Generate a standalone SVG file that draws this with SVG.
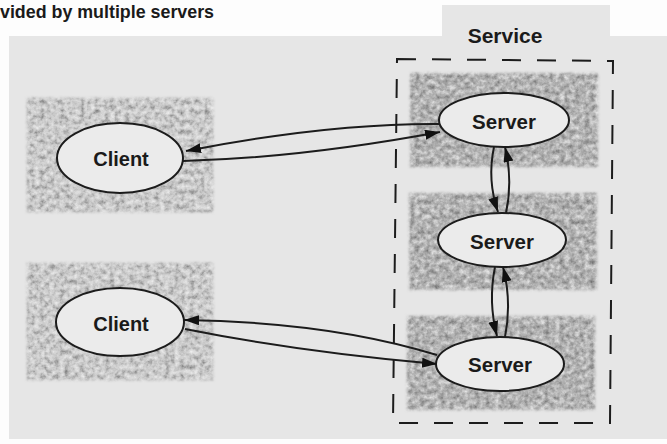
<svg xmlns="http://www.w3.org/2000/svg" width="667" height="444" viewBox="0 0 667 444">
  <style>
    .lbl { font-family: "Liberation Sans", Arial, sans-serif; font-weight: bold; fill: #1a1a1a; text-anchor: middle; }
    .node-shape { fill: #ebebeb; stroke: #1c1c1c; stroke-width: 2; }
    .client-bg { fill: #cbcbcb; filter: url(#grain); }
    .server-bg { fill: #b2b2b2; filter: url(#grain); }
    .link { fill: none; stroke: #1c1c1c; stroke-width: 2; marker-end: url(#head); }
    .boundary { fill: none; stroke: #1c1c1c; stroke-width: 2; stroke-dasharray: 19 16; }
  </style>
  <defs>
    <!-- stippled screen texture for the shaded host areas -->
    <filter id="grain" x="-4%" y="-4%" width="108%" height="108%">
      <feGaussianBlur in="SourceGraphic" stdDeviation="1.5" result="soft"/>
      <feTurbulence type="fractalNoise" baseFrequency="0.2" numOctaves="3" seed="11" result="noise"/>
      <feGaussianBlur in="noise" stdDeviation="0.6" result="noiseSoft"/>
      <feColorMatrix in="noiseSoft" type="matrix" values="0.75 0 0 0 0.12  0.75 0 0 0 0.12  0.75 0 0 0 0.12  0 0 0 0 1" result="gray"/>
      <feBlend in="gray" in2="soft" mode="hard-light" result="mottled"/>
      <feComposite in="mottled" in2="soft" operator="in"/>
    </filter>
    <marker id="head" markerUnits="userSpaceOnUse" markerWidth="18" markerHeight="12" refX="15" refY="5" orient="auto">
      <path d="M0,0 L15,5 L0,10 Z" fill="#111"/>
    </marker>
  </defs>

  <rect width="667" height="444" fill="#fdfdfd"/>

  <!-- title line -->
  <text x="0" y="18" font-family="'Liberation Sans', Arial, sans-serif" font-size="19" font-weight="bold" fill="#1a1a1a" textLength="214" lengthAdjust="spacingAndGlyphs">vided by multiple servers</text>

  <!-- panel with tab -->
  <path d="M9,36 L442,36 L442,5 L610,5 L610,36 L667,36 L667,439 L9,439 Z" fill="#e6e6e6"/>
  <text class="lbl" x="505" y="43" font-size="21">Service</text>

  <!-- service boundary -->
  <path class="boundary" d="M397,59 L613,61 L610,423 L393,423 Z"/>

  <g id="client1">
    <rect class="client-bg" x="27" y="98" width="186" height="114"/>
    <ellipse class="node-shape" cx="120" cy="158" rx="63" ry="35"/>
    <text class="lbl" x="121" y="166" font-size="20">Client</text>
  </g>

  <g id="client2">
    <rect class="client-bg" x="27" y="263" width="186" height="117"/>
    <ellipse class="node-shape" cx="120" cy="322" rx="64" ry="34"/>
    <text class="lbl" x="121" y="331" font-size="20">Client</text>
  </g>

  <g id="server1">
    <rect class="server-bg" x="410" y="73" width="188" height="94"/>
    <ellipse class="node-shape" cx="504" cy="120" rx="65" ry="27"/>
    <text class="lbl" x="504" y="129" font-size="20.5">Server</text>
  </g>

  <g id="server2">
    <rect class="server-bg" x="409" y="193" width="188" height="97"/>
    <ellipse class="node-shape" cx="502" cy="240" rx="64" ry="27"/>
    <text class="lbl" x="502" y="249" font-size="20.5">Server</text>
  </g>

  <g id="server3">
    <rect class="server-bg" x="407" y="316" width="188" height="94"/>
    <ellipse class="node-shape" cx="500" cy="364" rx="64" ry="27"/>
    <text class="lbl" x="500" y="372" font-size="20.5">Server</text>
  </g>

  <g id="connectors">
    <!-- client1 <-> server1 -->
    <path class="link" d="M440,124 Q330,123 186,151"/>
    <path class="link" d="M183,161 Q300,158 440,132"/>
    <!-- client2 <-> server3 -->
    <path class="link" d="M437,355 Q330,322 184,320"/>
    <path class="link" d="M185,329 Q300,352 437,364"/>
    <!-- server1 <-> server2 -->
    <path class="link" d="M494,147 Q487,180 498,212"/>
    <path class="link" d="M506,213 Q513,180 505,147"/>
    <!-- server2 <-> server3 -->
    <path class="link" d="M495,267 Q488,302 497,336"/>
    <path class="link" d="M505,337 Q512,302 503,267"/>
  </g>
</svg>
